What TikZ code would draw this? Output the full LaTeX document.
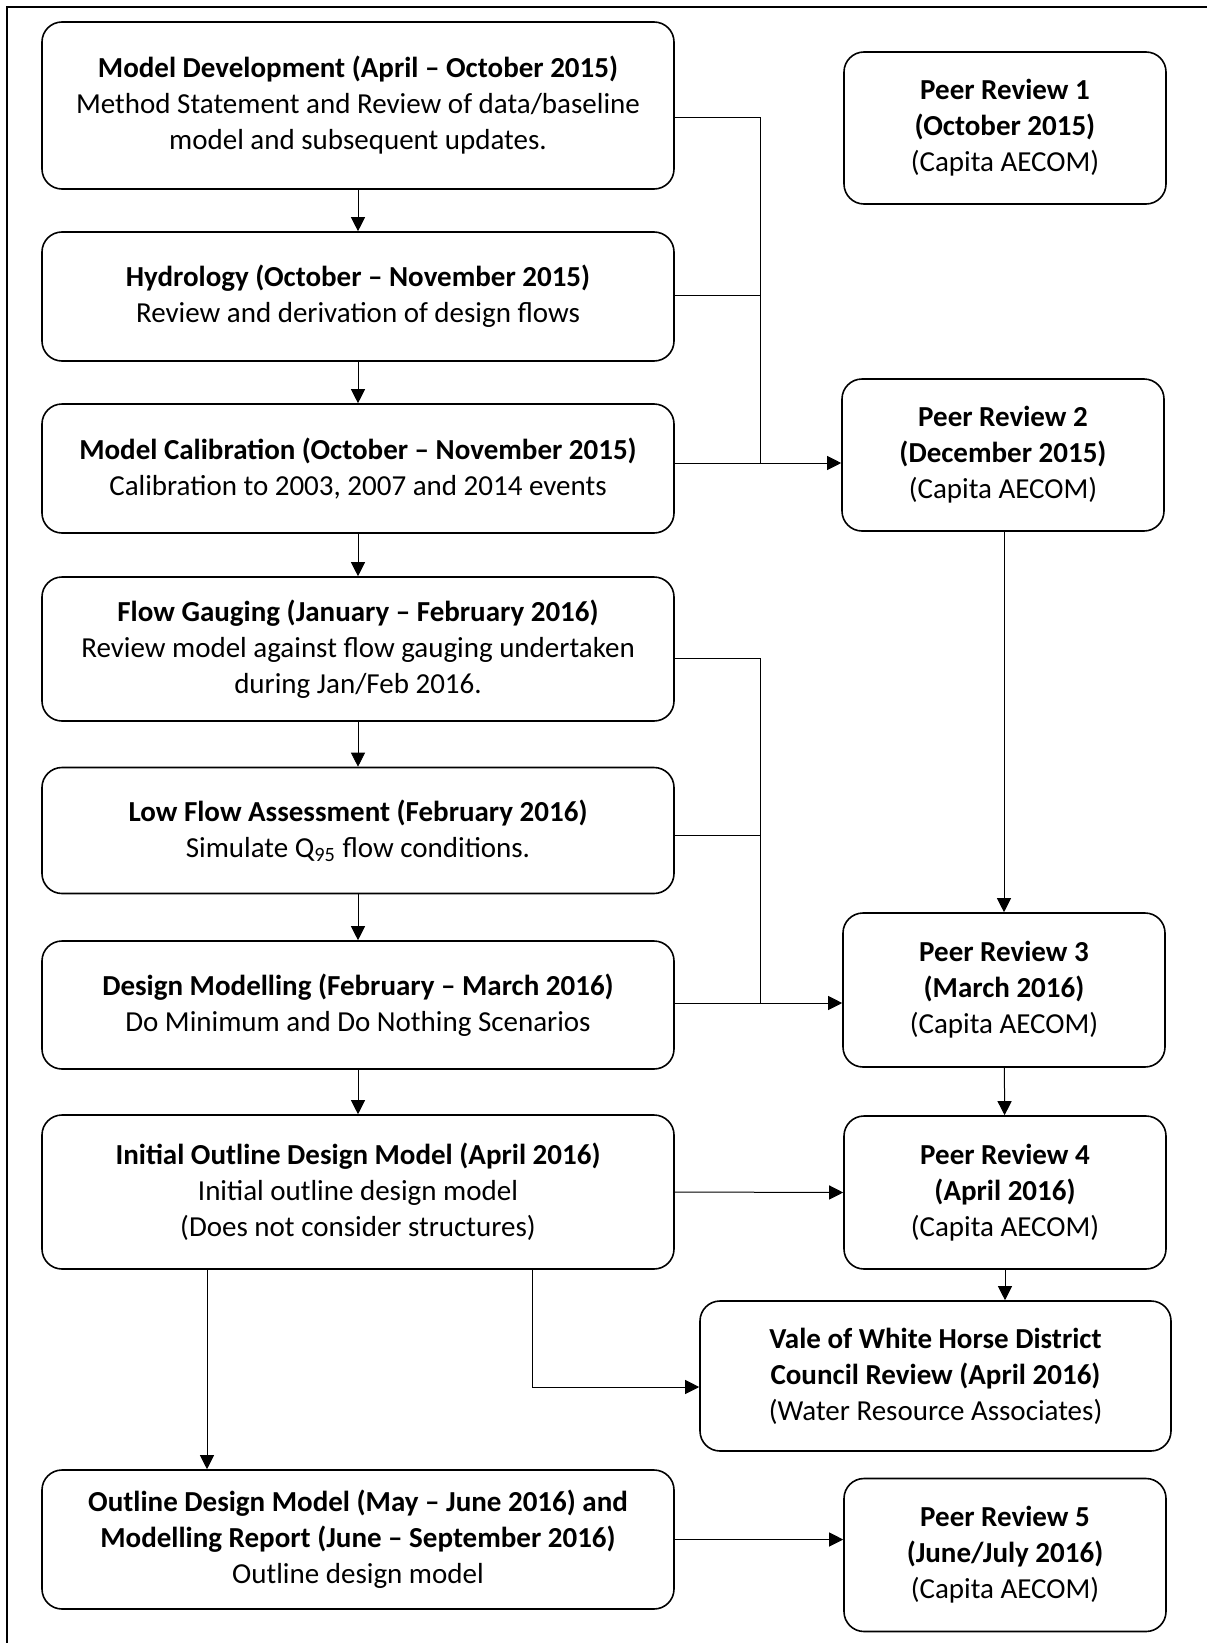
\documentclass[tikz,border=0pt]{standalone}
\usepackage{fontspec}
\setmainfont{Carlito}
\usepackage{tikz}
\usetikzlibrary{arrows.meta}
\usetikzlibrary{backgrounds,positioning,calc}
\pgfdeclarelayer{edgelayer}
\pgfdeclarelayer{nodelayer}
\pgfsetlayers{background,edgelayer,nodelayer,main}
\tikzstyle{none}=[inner sep=0mm]
\tikzstyle{box}=[draw=black,line width=0.8pt,rounded corners=10pt,fill=white,align=center,inner sep=2pt,font=\fontsize{14.5}{18}\selectfont,execute at begin node={\rule{0pt}{17pt}}]
\tikzstyle{stage}=[box,minimum width=316pt]
\tikzstyle{review}=[box,minimum width=161pt]
\tikzstyle{diredge}=[-{Triangle[length=7pt,width=7pt]}]
\tikzstyle{link}=[line width=0.5pt]
\tikzstyle{frame}=[line width=1.2pt]

\begin{document}
\begin{tikzpicture}[x=0.5pt,y=-0.5pt]
	\useasboundingbox (0,0) rectangle (1206,1643);
	\draw [style=frame] (7,1660) -- (7,7) -- (1220,7);
	\begin{pgfonlayer}{nodelayer}
		% left column
		\node [style=stage, minimum height=83.5pt] (dev) at (358,105.5) {\textbf{Model Development (April -- October 2015)}\\Method Statement and Review of data/baseline\\model and subsequent updates.};
		\node [style=stage, minimum height=64.5pt] (hyd) at (358,296.5) {\textbf{Hydrology (October -- November 2015)}\\Review and derivation of design flows};
		\node [style=stage, minimum height=64.5pt] (cal) at (358,468.5) {\textbf{Model Calibration (October -- November 2015)}\\Calibration to 2003, 2007 and 2014 events};
		\node [style=stage, minimum height=72pt] (gau) at (358,649) {\textbf{Flow Gauging (January -- February 2016)}\\Review model against flow gauging undertaken\\during Jan/Feb 2016.};
		\node [style=stage, minimum height=63pt] (low) at (358,830.5) {\textbf{Low Flow Assessment (February 2016)}\\Simulate Q\textsubscript{95} flow conditions.};
		\node [style=stage, minimum height=64pt] (des) at (358,1005) {\textbf{Design Modelling (February -- March 2016)}\\Do Minimum and Do Nothing Scenarios};
		\node [style=stage, minimum height=77pt] (ini) at (358,1192) {\textbf{Initial Outline Design Model (April 2016)}\\Initial outline design model\\(Does not consider structures)};
		\node [style=stage, minimum height=69.5pt] (out) at (358,1539.5) {\textbf{Outline Design Model (May -- June 2016) and}\\\textbf{Modelling Report (June -- September 2016)}\\Outline design model};
		% right column
		\node [style=review, minimum height=76pt] (pr1) at (1005,128) {\textbf{Peer Review 1}\\\textbf{(October 2015)}\\(Capita AECOM)};
		\node [style=review, minimum height=76pt] (pr2) at (1003,455) {\textbf{Peer Review 2}\\\textbf{(December 2015)}\\(Capita AECOM)};
		\node [style=review, minimum height=77pt] (pr3) at (1004,990) {\textbf{Peer Review 3}\\\textbf{(March 2016)}\\(Capita AECOM)};
		\node [style=review, minimum height=76.5pt] (pr4) at (1005,1192.5) {\textbf{Peer Review 4}\\\textbf{(April 2016)}\\(Capita AECOM)};
		\node [style=box, minimum width=235.5pt, minimum height=75pt] (vwh) at (935.5,1376) {\textbf{Vale of White Horse District}\\\textbf{Council Review (April 2016)}\\(Water Resource Associates)};
		\node [style=review, minimum height=76.5pt] (pr5) at (1005,1555) {\textbf{Peer Review 5}\\\textbf{(June/July 2016)}\\(Capita AECOM)};
		% junctions
		\coordinate (a1) at (760,118);
		\coordinate (a2) at (760,295);
		\coordinate (a3) at (760,463);
		\coordinate (b1) at (760,658);
		\coordinate (b2) at (760,835);
		\coordinate (b3) at (760,1003);
		\coordinate (bend) at (532.6,1387);
	\end{pgfonlayer}
	\begin{pgfonlayer}{edgelayer}
		\draw [style=diredge] (dev) to (hyd);
		\draw [style=diredge] (hyd) to (cal);
		\draw [style=diredge] (cal) to (gau);
		\draw [style=diredge] (gau) to (low);
		\draw [style=diredge] (low) to (des);
		\draw [style=diredge] (des) to (ini);
		\draw [style=link] (dev.east |- a1) to (a1) to (a3);
		\draw [style=link] (hyd.east |- a2) to (a2);
		\draw [style=link, style=diredge] (cal.east |- a3) to (pr2.west |- a3);
		\draw [style=link] (gau.east |- b1) to (b1) to (b3);
		\draw [style=link] (low.east |- b2) to (b2);
		\draw [style=link, style=diredge] (des.east |- b3) to (pr3.west |- b3);
		\draw [style=link, style=diredge] (pr3.north |- pr2.south) to (pr3.north);
		\draw [style=link, style=diredge] (pr3) to (pr4);
		\draw [style=link, style=diredge] (ini.east) to (pr4.west);
		\draw [style=link, style=diredge] (pr4.south) to (pr4.south |- vwh.north);
		\draw [style=link, style=diredge] (ini.south -| bend) to (bend) to (vwh.west |- bend);
		\draw [style=link, style=diredge] ([xshift=-75.5pt]ini.south) to ([xshift=-75.5pt]out.north);
		\draw [style=link, style=diredge] (out.east) to (out.east -| pr5.west);
	\end{pgfonlayer}
\end{tikzpicture}
\end{document}
